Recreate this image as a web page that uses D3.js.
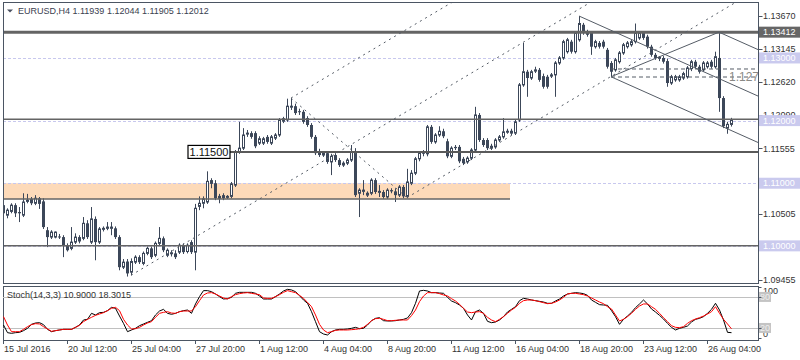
<!DOCTYPE html>
<html><head><meta charset="utf-8">
<script src="https://cdn.jsdelivr.net/npm/d3@7"></script>
<style>
body{margin:0;background:#fff}
svg{display:block}
text{font-family:"Liberation Sans",Arial,sans-serif}
</style>
</head><body>
<svg id="c" width="800" height="360"></svg>
<script>
// ---------- DATA ----------
const symbolTitle = "EURUSD,H4  1.11939 1.12044 1.11905 1.12012";
const stochTitle = "Stoch(14,3,3) 10.9000 18.3015";

const open = [
1.1065,1.1049,1.1055,1.1065,1.1054,1.1049,1.1071,1.1075,1.1068,1.1076,
1.1071,1.1025,1.1014,1.1014,1.1015,1.1014,1.1001,1.0996,1.1006,1.1014,
1.1012,1.1036,1.1006,1.1043,1.1006,1.1027,1.1028,1.1028,1.1028,1.1014,
1.0966,1.0975,1.0958,1.0974,1.0982,1.0972,1.0988,1.0996,1.0985,1.1004,
1.1012,1.0985,1.0988,1.0988,1.0990,1.1001,1.0991,1.1006,1.0990,1.1063,
1.1068,1.1070,1.1105,1.1100,1.1076,1.1081,1.1078,1.1079,1.1097,1.1150,
1.1156,1.1179,1.1180,1.1180,1.1164,1.1164,1.1174,1.1164,1.1172,1.1177,
1.1199,1.1201,1.1222,1.1223,1.1215,1.1214,1.1204,1.1193,1.1174,1.1151,
1.1145,1.1148,1.1134,1.1145,1.1137,1.1129,1.1132,1.1137,1.1150,1.1084,
1.1087,1.1081,1.1084,1.1105,1.1086,1.1086,1.1078,1.1089,1.1087,1.1081,
1.1094,1.1079,1.1100,1.1116,1.1139,1.1150,1.1147,1.1190,1.1166,1.1177,
1.1183,1.1167,1.1143,1.1158,1.1158,1.1139,1.1134,1.1140,1.1153,1.1209,
1.1169,1.1169,1.1156,1.1158,1.1169,1.1174,1.1182,1.1180,1.1180,1.1201,
1.1257,1.1278,1.1268,1.1279,1.1281,1.1271,1.1270,1.1271,1.1273,1.1292,
1.1300,1.1310,1.1326,1.1310,1.1329,1.1353,1.1342,1.1340,1.1318,1.1324,
1.1326,1.1313,1.1292,1.1281,1.1294,1.1308,1.1318,1.1321,1.1326,1.1332,
1.1340,1.1334,1.1318,1.1305,1.1300,1.1300,1.1295,1.1260,1.1265,1.1265,
1.1268,1.1270,1.1283,1.1294,1.1286,1.1281,1.1286,1.1294,1.1286,1.1300,
1.1236,1.1188,1.11939];
const high = [
1.1073,1.1060,1.1068,1.1068,1.1062,1.1084,1.1083,1.1078,1.1081,1.1078,
1.1076,1.1030,1.1025,1.1023,1.1019,1.1017,1.1004,1.1030,1.1020,1.1017,
1.1046,1.1041,1.1062,1.1047,1.1030,1.1031,1.1038,1.1038,1.1031,1.1017,
1.0979,1.0979,1.0980,1.0985,1.0985,1.0991,1.0999,1.0999,1.1007,1.1030,
1.1015,1.0996,1.0993,1.0993,1.1004,1.1004,1.1004,1.1009,1.1067,1.1079,
1.1079,1.1119,1.1108,1.1105,1.1083,1.1084,1.1081,1.1102,1.1153,1.1198,
1.1188,1.1185,1.1183,1.1183,1.1175,1.1174,1.1177,1.1177,1.1180,1.1204,
1.1206,1.1235,1.1236,1.1227,1.1219,1.1217,1.1207,1.1196,1.1177,1.1155,
1.1151,1.1151,1.1147,1.1148,1.1140,1.1135,1.1140,1.1161,1.1156,1.1092,
1.1105,1.1087,1.1108,1.1108,1.1097,1.1089,1.1092,1.1092,1.1092,1.1097,
1.1097,1.1123,1.1121,1.1142,1.1151,1.1153,1.1193,1.1193,1.1180,1.1191,
1.1187,1.1171,1.1159,1.1161,1.1161,1.1142,1.1143,1.1156,1.1222,1.1212,
1.1172,1.1172,1.1163,1.1172,1.1177,1.1204,1.1187,1.1187,1.1201,1.1260,
1.1324,1.1281,1.1281,1.1286,1.1284,1.1275,1.1273,1.1276,1.1295,1.1303,
1.1329,1.1332,1.1329,1.1343,1.1367,1.1356,1.1345,1.1343,1.1329,1.1327,
1.1329,1.1316,1.1295,1.1300,1.1311,1.1324,1.1327,1.1329,1.1355,1.1343,
1.1343,1.1337,1.1321,1.1308,1.1303,1.1303,1.1299,1.1273,1.1273,1.1273,
1.1278,1.1287,1.1297,1.1297,1.1289,1.1295,1.1295,1.1297,1.1310,1.13412,
1.1239,1.1198,1.12044];
const low = [
1.1047,1.1044,1.1052,1.1046,1.1038,1.1046,1.1068,1.1065,1.1065,1.1059,
1.1027,1.0998,1.1011,1.1012,1.1011,1.0982,1.0991,1.0993,1.1003,1.1004,
1.1009,1.1011,1.1003,1.0977,1.1003,1.1023,1.1025,1.1017,1.1011,1.0961,
1.0963,1.0951,1.0953,1.0971,1.0971,1.0969,1.0985,1.0979,1.0982,1.1001,
1.0990,1.0982,1.0983,1.0979,1.0987,1.0987,1.0988,1.0987,1.0961,1.1057,
1.1060,1.1067,1.1092,1.1073,1.1068,1.1073,1.1075,1.1076,1.1094,1.1147,
1.1153,1.1174,1.1171,1.1156,1.1161,1.1161,1.1163,1.1161,1.1169,1.1174,
1.1196,1.1198,1.1217,1.1209,1.1209,1.1195,1.1190,1.1171,1.1145,1.1142,
1.1142,1.1131,1.1113,1.1134,1.1126,1.1126,1.1129,1.1134,1.1078,1.1046,
1.1081,1.1078,1.1081,1.1083,1.1078,1.1075,1.1075,1.1084,1.1070,1.1078,
1.1076,1.1076,1.1097,1.1113,1.1135,1.1143,1.1143,1.1163,1.1163,1.1174,
1.1172,1.1140,1.1140,1.1153,1.1132,1.1129,1.1131,1.1137,1.1150,1.1166,
1.1158,1.1153,1.1153,1.1155,1.1166,1.1171,1.1179,1.1177,1.1177,1.1198,
1.1254,1.1238,1.1265,1.1276,1.1262,1.1251,1.1251,1.1268,1.1238,1.1289,
1.1297,1.1307,1.1307,1.1307,1.1326,1.1337,1.1334,1.1305,1.1315,1.1315,
1.1315,1.1283,1.1270,1.1278,1.1291,1.1305,1.1315,1.1318,1.1323,1.1329,
1.1329,1.1315,1.1302,1.1297,1.1295,1.1291,1.1254,1.1257,1.1262,1.1262,
1.1265,1.1267,1.1279,1.1283,1.1275,1.1278,1.1283,1.1283,1.1283,1.1214,
1.1188,1.1179,1.11905];
const close = [
1.1052,1.1057,1.1065,1.1052,1.1052,1.1070,1.1073,1.1068,1.1076,1.1067,
1.1030,1.1014,1.1022,1.1022,1.1014,1.1001,1.0993,1.1006,1.1014,1.1007,
1.1036,1.1014,1.1043,1.1006,1.1027,1.1028,1.1030,1.1030,1.1014,1.0966,
1.0974,1.0956,1.0975,1.0982,1.0974,1.0988,1.0996,1.0982,1.1004,1.1012,
1.0993,1.0993,1.0989,1.0982,1.1001,1.0990,1.1001,1.0990,1.1060,1.1068,
1.1075,1.1103,1.1099,1.1076,1.1079,1.1076,1.1079,1.1099,1.1150,1.1156,
1.1177,1.1180,1.1174,1.1159,1.1171,1.1171,1.1166,1.1174,1.1177,1.1201,
1.1203,1.1223,1.1223,1.1212,1.1214,1.1198,1.1193,1.1174,1.1148,1.1145,
1.1148,1.1134,1.1143,1.1137,1.1129,1.1132,1.1137,1.1150,1.1081,1.1089,
1.1089,1.1084,1.1105,1.1086,1.1087,1.1078,1.1089,1.1087,1.1081,1.1094,
1.1079,1.1102,1.1116,1.1139,1.1148,1.1147,1.1190,1.1166,1.1177,1.1183,
1.1175,1.1143,1.1156,1.1156,1.1135,1.1132,1.1140,1.1153,1.1209,1.1169,
1.1161,1.1156,1.1159,1.1169,1.1174,1.1182,1.1183,1.1183,1.1198,1.1257,
1.1278,1.1268,1.1278,1.1281,1.1265,1.1254,1.1254,1.1273,1.1292,1.1300,
1.1326,1.1329,1.1310,1.1340,1.1355,1.1340,1.1337,1.1318,1.1326,1.1318,
1.1318,1.1286,1.1278,1.1297,1.1308,1.1321,1.1324,1.1326,1.1340,1.1340,
1.1332,1.1318,1.1305,1.1300,1.1301,1.1294,1.1260,1.1270,1.1270,1.1270,
1.1275,1.1284,1.1294,1.1286,1.1278,1.1292,1.1292,1.1286,1.1302,1.1236,
1.1191,1.1194,1.12012];

const stochK = [
25.7,10.9,9.6,10.9,11.5,14.8,19.3,27.0,29.6,30.2,
26.4,17.3,12.8,14.8,16.1,17.3,17.3,17.3,21.2,25.7,
35.4,36.7,48.3,45.1,49.6,50.2,53.5,59.9,58.0,43.1,
28.9,12.8,16.1,19.3,24.4,27.7,30.9,34.1,45.1,52.8,
56.0,48.3,46.4,48.3,51.5,53.5,54.7,48.3,66.4,80.6,
92.2,92.2,90.2,85.7,80.6,76.0,76.7,79.3,87.0,88.9,
88.9,88.9,88.9,87.0,81.8,76.0,76.0,76.0,80.6,85.7,
91.5,94.7,93.5,90.2,82.5,74.1,67.7,51.5,32.2,12.8,
8.3,6.4,12.8,16.1,17.3,17.3,18.0,19.3,21.2,18.6,
19.3,25.7,34.1,38.6,39.9,34.1,33.5,33.5,34.1,35.4,
36.7,39.3,49.6,67.7,91.5,92.8,91.5,88.3,88.3,87.6,
87.0,79.3,72.2,68.9,64.4,58.0,45.1,35.4,51.5,54.7,
48.3,32.8,30.2,31.5,35.4,41.9,50.9,56.0,61.2,72.8,
77.3,76.0,74.1,72.8,71.5,70.2,67.7,67.7,72.2,76.0,
81.8,85.7,87.0,88.3,87.6,86.4,83.1,74.1,69.6,65.1,
64.4,63.8,53.5,41.9,27.0,36.7,43.1,50.2,59.3,66.4,
74.1,66.4,56.7,50.9,44.4,37.3,28.9,21.2,16.1,19.3,
21.2,23.8,31.5,36.7,38.6,41.9,48.3,56.0,67.7,54.7,
35.4,11.5,10.9];
const stochD = [
41.9,25.7,12.8,12.8,12.8,17.3,22.5,26.4,28.3,27.7,
22.5,18.0,13.5,14.8,16.1,17.3,17.3,17.3,21.2,25.1,
32.2,36.7,40.6,44.4,47.0,49.6,53.5,58.0,59.9,53.5,
36.7,25.7,18.0,18.6,21.2,25.7,29.6,32.2,40.6,48.3,
50.2,51.5,48.9,48.3,51.5,52.8,52.8,52.8,61.2,72.8,
83.8,87.6,88.3,85.7,81.8,78.0,76.0,80.6,84.4,86.4,
87.6,88.3,87.0,85.7,84.4,78.0,77.3,77.3,80.6,84.4,
88.9,92.2,90.2,88.3,83.1,77.3,69.6,61.2,45.1,27.0,
16.1,10.9,12.8,15.4,16.1,16.1,16.1,16.7,17.3,18.6,
21.2,27.0,34.1,38.0,38.6,36.7,34.1,34.1,34.8,35.4,
35.4,35.4,43.8,54.7,70.9,81.8,88.3,88.3,88.3,86.4,
83.8,81.8,76.7,72.2,65.7,58.0,50.9,49.6,50.9,51.5,
48.3,40.6,35.4,32.2,36.7,41.9,48.3,54.7,59.9,67.7,
72.8,74.1,74.1,72.8,70.9,68.9,67.0,67.7,70.2,74.1,
79.3,85.7,87.0,87.0,85.7,84.4,81.8,78.0,74.1,70.2,
67.0,61.2,56.7,45.1,33.5,36.7,41.9,48.3,56.0,62.5,
66.4,66.4,61.2,56.0,48.3,39.9,32.2,24.4,21.2,20.6,
22.5,28.9,34.1,37.3,39.9,43.1,47.0,51.5,61.2,48.3,
36.7,27.7,18.3];

const timeTickIndex = [0,16,32,48,64,80,96,112,128,144,160,176];
const timeTickLabel = ["15 Jul 2016","20 Jul 12:00","25 Jul 04:00","27 Jul 20:00","1 Aug 12:00","4 Aug 04:00","8 Aug 20:00","11 Aug 12:00","16 Aug 04:00","18 Aug 20:00","23 Aug 12:00","26 Aug 04:00"];

const priceTicks = [1.13670,1.13145,1.12620,1.12090,1.11555,1.10505,1.09455];
const roundLevels = [1.13,1.12,1.11,1.10];
const resistanceLevel = 1.13412;
const supportLevels = [1.1202,1.1000];
const labelLevel = 1.115;       // price label object "1.11500"
const labelLevelStart = 56.75;  // bar index where the level line starts
const zone = {from:0, to:126.75, low:1.1075, high:1.1100};
const fibLevels = [1.12824,1.12696];
const fibStart = 152;
const fibText = "1.127";

// trend lines (bar index, price)
const channelLow  = [[32,1.0953],[134,1.1340]];
const channelHigh = [[72,1.1236],[112,1.13878]];
const channelMid  = [[101,1.1077],[150,1.12629]];
const downLine    = [[72,1.1236],[101,1.1077]];
const pitchP1 = [144,1.1367], pitchP2 = [152,1.1270], pitchP3 = [179,1.13412];

const stochLevels = [80,20];

// ---------- LAYOUT ----------
const W=800,H=360;
const mainL=3,mainR=758,mainT=2,mainB=283;
const subT=286,subB=340;
const candleCol="#3c4759", frameCol="#4b5563";

const svg=d3.select("#c");
const x=d3.scaleLinear().domain([0,182]).range([3,731]);
const y=d3.scaleLinear().domain([1.09455,1.1367]).range([280,16]);
const sy=d3.scaleLinear().domain([0,100]).range([338.3,286.6]);

const defs=svg.append("defs");
defs.append("clipPath").attr("id","cm").append("rect").attr("x",mainL).attr("y",mainT).attr("width",mainR-mainL).attr("height",mainB-mainT);
defs.append("clipPath").attr("id","cs").append("rect").attr("x",mainL).attr("y",subT).attr("width",mainR-mainL).attr("height",subB-subT);

const gm=svg.append("g").attr("clip-path","url(#cm)");
const iRight = x.invert(mainR+2);

// zone
gm.append("rect").attr("x",x(zone.from)-4).attr("y",y(zone.high))
  .attr("width",x(zone.to)-x(zone.from)+4).attr("height",y(zone.low)-y(zone.high))
  .attr("fill","#fddab9");

// round level dashed lines
gm.selectAll(".rl").data(roundLevels).enter().append("line")
  .attr("x1",mainL).attr("x2",mainR).attr("y1",d=>Math.round(y(d))+0.5).attr("y2",d=>Math.round(y(d))+0.5)
  .attr("stroke","#c8c8ee").attr("stroke-dasharray","3,2").attr("stroke-width",1);

// candles
const idx=d3.range(open.length);
const gc=gm.append("g");
gc.selectAll(".wick").data(idx).enter().append("line")
  .attr("x1",i=>Math.round(x(i))+0.5).attr("x2",i=>Math.round(x(i))+0.5)
  .attr("y1",i=>y(high[i])).attr("y2",i=>y(low[i]))
  .attr("stroke",candleCol).attr("stroke-width",1);
gc.selectAll(".body").data(idx).enter().append("rect")
  .attr("x",i=>close[i]>=open[i]?Math.round(x(i))-0.5:Math.round(x(i))-1)
  .attr("width",i=>close[i]>=open[i]?2:3)
  .attr("y",i=>y(Math.max(open[i],close[i])))
  .attr("height",i=>Math.max(1,Math.abs(y(open[i])-y(close[i]))))
  .attr("fill",i=>close[i]>=open[i]?"#ffffff":candleCol)
  .attr("stroke",i=>close[i]>=open[i]?candleCol:"none")
  .attr("stroke-width",1);

// horizontal solid levels
gm.append("line").attr("x1",mainL).attr("x2",mainR).attr("y1",y(resistanceLevel)).attr("y2",y(resistanceLevel))
  .attr("stroke","#646464").attr("stroke-width",3);
gm.selectAll(".sl").data(supportLevels).enter().append("line")
  .attr("x1",mainL).attr("x2",mainR).attr("y1",d=>y(d)).attr("y2",d=>y(d))
  .attr("stroke","#646464").attr("stroke-width",1.5);
gm.append("line").attr("x1",mainL).attr("x2",x(zone.to)).attr("y1",y(zone.low)).attr("y2",y(zone.low))
  .attr("stroke","#646464").attr("stroke-width",1.5);
gm.append("line").attr("x1",x(labelLevelStart)).attr("x2",mainR).attr("y1",y(labelLevel)).attr("y2",y(labelLevel))
  .attr("stroke","#5a5a5a").attr("stroke-width",2);

// trend lines
function ext(a,b,toI){const s=(b[1]-a[1])/(b[0]-a[0]);return [a,[toI,a[1]+s*(toI-a[0])]];}
const lineGen=d3.line().x(d=>x(d[0])).y(d=>y(d[1]));
const dashed=[ext(channelLow[0],channelLow[1],iRight),ext(channelHigh[0],channelHigh[1],iRight),
              ext(channelMid[0],channelMid[1],iRight),downLine];
gm.selectAll(".tl").data(dashed).enter().append("path").attr("d",lineGen)
  .attr("fill","none").attr("stroke","#555c66").attr("stroke-width",1).attr("stroke-dasharray","2,4");

// pitchfork
const mid=[(pitchP2[0]+pitchP3[0])/2,(pitchP2[1]+pitchP3[1])/2];
const slope=(mid[1]-pitchP1[1])/(mid[0]-pitchP1[0]);
const pf=[[pitchP1,[iRight,pitchP1[1]+slope*(iRight-pitchP1[0])]],
          [pitchP2,[iRight,pitchP2[1]+slope*(iRight-pitchP2[0])]],
          [pitchP3,[iRight,pitchP3[1]+slope*(iRight-pitchP3[0])]],
          [pitchP2,pitchP3]];
gm.selectAll(".pf").data(pf).enter().append("path").attr("d",lineGen)
  .attr("fill","none").attr("stroke","#555c66").attr("stroke-width",1);

// fib levels
gm.selectAll(".fib").data(fibLevels).enter().append("line")
  .attr("x1",x(fibStart)).attr("x2",mainR).attr("y1",d=>y(d)).attr("y2",d=>y(d))
  .attr("stroke","#555c66").attr("stroke-dasharray","4,3");
gm.append("text").attr("x",mainR-29).attr("y",y(fibLevels[1])).attr("dy","0.36em")
  .attr("font-size",12).attr("fill","#8a8a86").text(fibText);

// price label 1.11500
const lbW=42, lbH=13;
svg.append("rect").attr("x",x(labelLevelStart)-lbW).attr("y",y(labelLevel)-lbH/2).attr("width",lbW).attr("height",lbH)
  .attr("fill","#fff").attr("stroke","#000").attr("stroke-width",1.2);
svg.append("text").attr("x",x(labelLevelStart)-lbW/2).attr("y",y(labelLevel)).attr("dy","0.36em")
  .attr("text-anchor","middle").attr("font-size",11).attr("fill","#111").text(labelLevel.toFixed(5));

// frames
svg.append("rect").attr("x",mainL+0.5).attr("y",mainT+0.5).attr("width",mainR-mainL).attr("height",mainB-mainT)
  .attr("fill","none").attr("stroke",frameCol);
svg.append("rect").attr("x",mainL+0.5).attr("y",subT+0.5).attr("width",mainR-mainL).attr("height",subB-subT)
  .attr("fill","none").attr("stroke",frameCol);

// title
svg.append("path").attr("d","M7,9.5L13,9.5L10,12.5Z").attr("fill","#4a5060");
svg.append("text").attr("x",18).attr("y",11).attr("dy","0.36em").attr("font-size",9).attr("fill","#3a4150").text(symbolTitle);

// price axis
const ga=svg.append("g");
ga.selectAll(".pt").data(priceTicks).enter().append("line")
  .attr("x1",mainR+0.5).attr("x2",mainR+4.5).attr("y1",d=>Math.round(y(d))+0.5).attr("y2",d=>Math.round(y(d))+0.5)
  .attr("stroke",frameCol);
ga.selectAll(".ptl").data(priceTicks).enter().append("text")
  .attr("x",763).attr("y",d=>y(d)).attr("dy","0.36em").attr("font-size",9).attr("fill","#333")
  .text(d=>d.toFixed(5));
ga.selectAll(".rb").data(roundLevels).enter().append("rect")
  .attr("x",759).attr("y",d=>y(d)-5.5).attr("width",41).attr("height",11).attr("fill","#cacaee");
ga.selectAll(".rbt").data(roundLevels).enter().append("text")
  .attr("x",763).attr("y",d=>y(d)).attr("dy","0.36em").attr("font-size",9).attr("fill","#fff")
  .text(d=>d.toFixed(5));
ga.append("rect").attr("x",759).attr("y",y(resistanceLevel)-5.5).attr("width",41).attr("height",11).attr("fill","#666");
ga.append("text").attr("x",763).attr("y",y(resistanceLevel)).attr("dy","0.36em").attr("font-size",9).attr("fill","#fff")
  .text(resistanceLevel.toFixed(5));

// stochastic panel
const gs=svg.append("g").attr("clip-path","url(#cs)");
gs.selectAll(".lv").data(stochLevels).enter().append("line")
  .attr("x1",mainL).attr("x2",mainR).attr("y1",d=>Math.round(sy(d))+0.5).attr("y2",d=>Math.round(sy(d))+0.5)
  .attr("stroke","#c0c0c0");
const sLine=d3.line().x((d,i)=>x(i)+0.5).y(d=>sy(d));
gs.append("path").datum(stochK).attr("d",sLine).attr("fill","none").attr("stroke","#000").attr("stroke-width",1);
gs.append("path").datum(stochD).attr("d",sLine).attr("fill","none").attr("stroke","#ff0000").attr("stroke-width",1);
svg.append("text").attr("x",7).attr("y",295).attr("dy","0.36em").attr("font-size",9).attr("fill","#333").text(stochTitle);

svg.append("text").attr("x",763).attr("y",sy(100)+1).attr("dy","0.75em").attr("font-size",9).attr("fill","#333").text("100");
svg.append("text").attr("x",763).attr("y",sy(0)-1).attr("font-size",9).attr("fill","#333").text("0");
svg.selectAll(".slb").data(stochLevels).enter().append("rect")
  .attr("x",759).attr("y",d=>sy(d)-5).attr("width",12).attr("height",10).attr("fill","#c4c4c4");
svg.selectAll(".slt").data(stochLevels).enter().append("text")
  .attr("x",760).attr("y",d=>sy(d)).attr("dy","0.36em").attr("font-size",9).attr("fill","#eee").text(d=>d);
svg.selectAll(".stk").data([100,80,20,0]).enter().append("line")
  .attr("x1",mainR+0.5).attr("x2",mainR+3.5).attr("y1",d=>Math.round(sy(d))+0.5).attr("y2",d=>Math.round(sy(d))+0.5)
  .attr("stroke",frameCol);

// time axis
svg.selectAll(".tt").data(timeTickIndex).enter().append("line")
  .attr("x1",i=>Math.round(x(i))+0.5).attr("x2",i=>Math.round(x(i))+0.5).attr("y1",subB).attr("y2",subB+4)
  .attr("stroke",frameCol);
svg.selectAll(".ttl").data(timeTickIndex).enter().append("text")
  .attr("x",i=>Math.round(x(i))+1).attr("y",352).attr("font-size",9).attr("fill","#333")
  .text((i,k)=>timeTickLabel[k]);
</script>
</body></html>
